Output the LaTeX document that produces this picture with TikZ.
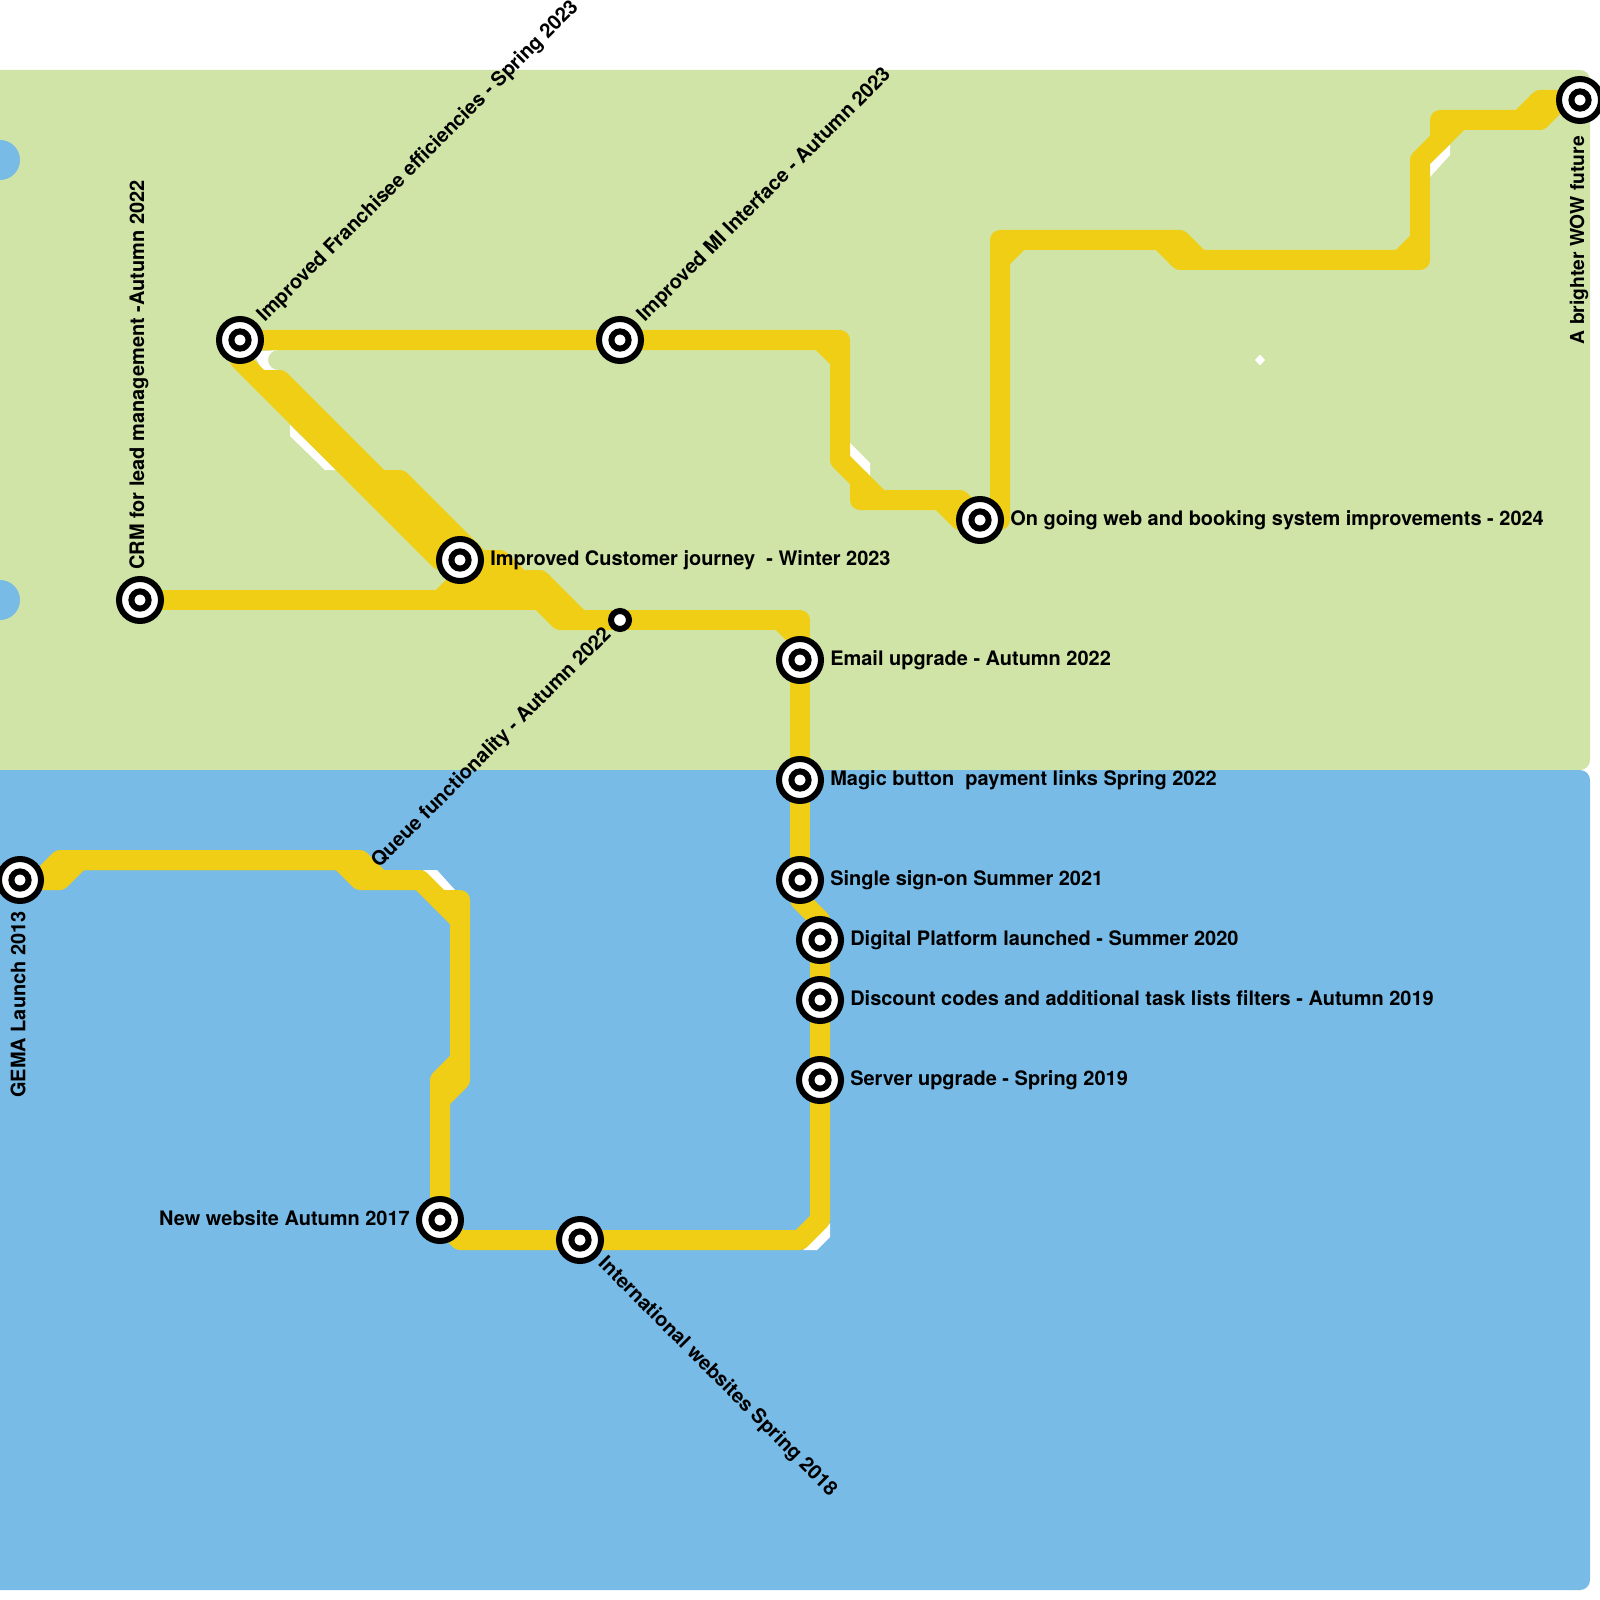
\documentclass[tikz,border=0pt]{standalone}
\usepackage{fontspec}
\setmainfont{TeX Gyre Heros}
\usepackage{xcolor}
\usepackage{tikz}
\usetikzlibrary{
  backgrounds,
  positioning,
  shapes.geometric
}
\definecolor{zonegreen}{RGB}{207,228,166}
\definecolor{zoneblue}{RGB}{120,187,231}
\definecolor{lineyellow}{RGB}{240,206,21}
\tikzset{
  station/.style={circle,draw=black,line width=1.5mm,fill=white,
    minimum size=10.5mm,inner sep=0pt,
    path picture={\draw[black,line width=1.5mm]
      (path picture bounding box.center) circle (2.15mm);}},
  halt/.style={circle,draw=black,line width=1.5mm,fill=white,
    minimum size=4.5mm,inner sep=0pt},
  metro/.style={draw=lineyellow,line width=5mm,line cap=round,line join=round},
  nick/.style={fill=white},
  lab/.style={font=\fontsize{14.2pt}{16pt}\selectfont\bfseries,text=black,inner sep=0pt}
}
\begin{document}
\begin{tikzpicture}[x=0.25mm,y=-0.25mm]
  \useasboundingbox (0,0) rectangle (1600,1600);
  % stations
  \node[station] (gema) at (20,880) {};
  \node[station] (newsite) at (440,1220) {};
  \node[station] (intl) at (580,1240) {};
  \node[station] (server) at (820,1080) {};
  \node[station] (discount) at (820,1000) {};
  \node[station] (digital) at (820,940) {};
  \node[station] (single) at (800,880) {};
  \node[station] (magic) at (800,780) {};
  \node[station] (email) at (800,660) {};
  \node[halt] (queue) at (620,620) {};
  \node[station] (crm) at (140,600) {};
  \node[station] (journey) at (460,560) {};
  \node[station] (franchise) at (240,340) {};
  \node[station] (mi) at (620,340) {};
  \node[station] (ongoing) at (980,520) {};
  \node[station] (future) at (1580,100) {};
  % labels
  \node[lab,yshift=0.5mm,left=1.5mm of newsite] (newsitelab) {New website Autumn 2017};
  \node[lab,right=1.5mm of server] (serverlab) {Server upgrade - Spring 2019};
  \node[lab,yshift=0.5mm,right=1.5mm of discount] (discountlab) {Discount codes and additional task lists filters - Autumn 2019};
  \node[lab,right=1.5mm of digital] (digitallab) {Digital Platform launched - Summer 2020};
  \node[lab,right=1.5mm of single] (singlelab) {Single sign-on Summer 2021};
  \node[lab,right=1.5mm of magic] (magiclab) {Magic button~ payment links Spring 2022};
  \node[lab,right=1.5mm of email] (emaillab) {Email upgrade - Autumn 2022};
  \node[lab,right=1.5mm of journey] (journeylab) {Improved Customer journey~ - Winter 2023};
  \node[lab,right=1.5mm of ongoing] (ongoinglab) {On going web and booking system improvements - 2024};
  \node[lab,xshift=-0.25mm,above=1.5mm of crm,anchor=west,rotate=90] (crmlab) {CRM for lead management -Autumn 2022};
  \node[lab,xshift=-0.5mm,below=1.75mm of gema,anchor=east,rotate=90] (gemalab) {GEMA Launch 2013};
  \node[lab,xshift=-0.25mm,below=3mm of future,anchor=east,rotate=90,font=\fontsize{13.7pt}{16pt}\selectfont\bfseries] (futurelab) {A brighter WOW future};
  \node[lab,above right=1mm and 1mm of franchise,anchor=west,rotate=45] (franchiselab) {Improved Franchisee efficiencies - Spring 2023};
  \node[lab,above right=1mm and 1mm of mi,anchor=west,rotate=45] (milab) {Improved MI Interface - Autumn 2023};
  \node[lab,below left=0.75mm and 0.75mm of queue,anchor=east,rotate=45] (queuelab) {Queue functionality - Autumn 2022};
  \node[lab,below right=1mm and 1mm of intl,anchor=west,rotate=-45] (intllab) {International websites Spring 2018};
  \begin{scope}[on background layer]
    % zones
    \fill[zonegreen,rounded corners=2.5mm] (-40,70) rectangle (1590,770);
    \fill[zoneblue,rounded corners=2.5mm] (-40,770) rectangle (1590,1590);
    \fill[zoneblue] (0,160) circle (5mm);
    \fill[zoneblue] (0,600) circle (5mm);
    % white slivers under the line
    \fill[nick] (253,352) -- (263,372) -- (278,370) arc[start angle=90,end angle=270,radius=10,y=-0.25mm] -- cycle;
    \fill[nick] (290,425) -- (290,436) -- (325,470) -- (336,470) -- cycle;
    \fill[nick] (850,443) -- (870,463) -- (870,477) -- (850,457) -- cycle;
    \fill[nick] (1450,145) -- (1450,155) -- (1430,177) -- (1430,163) -- cycle;
    \fill[nick] (423,870) -- (437,870) -- (455,890) -- (443,890) -- cycle;
    \fill[nick] (803,1250) -- (817,1250) -- (830,1237) -- (830,1223) -- cycle;
    \fill[nick] (1260,354.5) -- (1265,360) -- (1260,365.5) -- (1255,360) -- cycle;
    % line, oldest stop first
    \draw[metro] (gema.center) -- (60,880) -- (80,860) -- (340,860) -- (360,880) -- (420,880) -- (460,920);
    \draw[metro] (40,880) -- (60,860) -- (360,860) -- (380,880);
    \draw[metro] (440,900) -- (460,900) -- (460,1080) -- (440,1100) -- (newsite.center);
    \draw[metro] (460,1060) -- (440,1080) -- (440,1100);
    \draw[metro] (newsite.center) -- (460,1240) -- (intl.center) -- (800,1240) -- (820,1220) -- (server.center);
    \draw[metro] (server.center) -- (discount.center) -- (digital.center) -- (820,920) -- (800,900) -- (single.center);
    \draw[metro] (single.center) -- (magic.center) -- (email.center) -- (800,620) -- (queue.center);
    \draw[metro] (780,620) -- (800,640);
    \draw[metro] (queue.center) -- (560,620) -- (520,580) -- (460,580);
    \draw[metro] (580,620) -- (540,580) -- (520,580) -- (500,560) -- (journey.center);
    \draw[metro] (crm.center) -- (540,600);
    \draw[metro] (440,600) -- (480,560);
    \draw[metro] (franchise.center) -- (240,360) -- (440,560);
    \draw[metro] (260,380) -- (280,380) -- (journey.center);
    \draw[metro] (380,480) -- (400,480) -- (480,560);
    \draw[metro] (franchise.center) -- (mi.center) -- (840,340) -- (840,460) -- (880,500);
    \draw[metro] (820,340) -- (840,360);
    \draw[metro] (860,480) -- (860,500) -- (960,500) -- (ongoing.center);
    \draw[metro] (940,500) -- (960,520);
    \draw[metro] (ongoing.center) -- (1000,520) -- (1000,240) -- (1180,240) -- (1200,260) -- (1420,260) -- (1420,160) -- (1460,120);
    \draw[metro] (1000,260) -- (1020,240);
    \draw[metro] (1160,240) -- (1180,260) -- (1200,260);
    \draw[metro] (1400,260) -- (1420,240);
    \draw[metro] (1440,140) -- (1440,120) -- (1540,120) -- (1560,100) -- (future.center);
    \draw[metro] (1520,120) -- (1540,100) -- (future.center);
  \end{scope}
\end{tikzpicture}
\end{document}
